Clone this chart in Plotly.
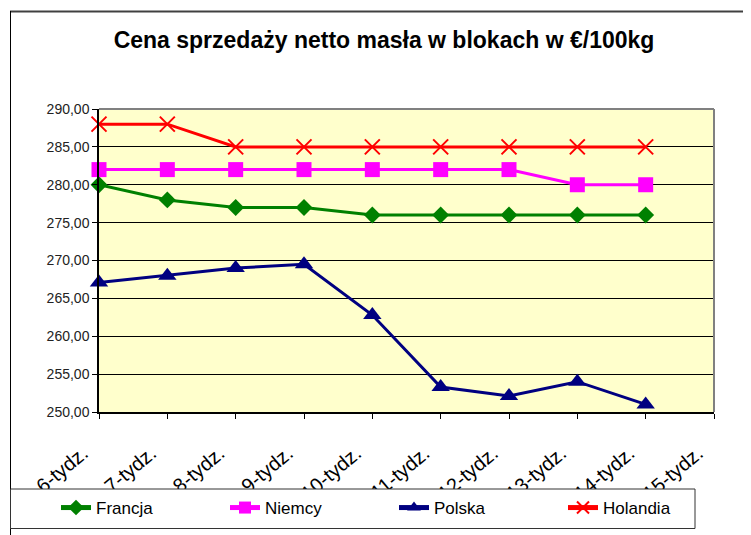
import plotly.graph_objects as go

categories = ["6-tydz.", "7-tydz.", "8-tydz.", "9-tydz.", "10-tydz.",
              "11-tydz.", "12-tydz.", "13-tydz.", "14-tydz.", "15-tydz."]
francja = [280, 278, 277, 277, 276, 276, 276, 276, 276]
niemcy = [282, 282, 282, 282, 282, 282, 282, 280, 280]
polska = [267.1, 268, 269, 269.5, 262.8, 253.3, 252.1, 254, 251]
holandia = [288, 288, 285, 285, 285, 285, 285, 285, 285]
y_ticks = [250, 255, 260, 265, 270, 275, 280, 285, 290]
y_tick_labels = ["250,00", "255,00", "260,00", "265,00", "270,00",
                 "275,00", "280,00", "285,00", "290,00"]

# page offset (browser body margin)
OFF = 8
W, H = 751 - OFF, 535 - OFF
# plot area in screen px
L, R, T, B = 99, 714, 109, 412


def px(x):
    return (x - L) / (R - L)


def py(y):
    return (B - y) / (B - T)


fig = go.Figure()

series = [
    ("Francja", francja, "#008000", "diamond", 13, 0),
    ("Niemcy", niemcy, "#FF00FF", "square", 15, 0),
    ("Polska", polska, "#000080", "triangle-up", 16, 0),
    ("Holandia", holandia, "#FF0000", "x-thin-open", 15, 2),
]
for name, vals, color, sym, size, lw in series:
    fig.add_trace(go.Scatter(
        x=categories[:len(vals)], y=vals, name=name, mode="lines+markers",
        line=dict(color=color, width=3),
        marker=dict(symbol=sym, size=size, color=color,
                    line=dict(color=color, width=lw)),
        cliponaxis=False,
    ))

shapes = [
    # plot area top/right gray border
    dict(type="line", xref="paper", yref="paper", x0=0, x1=1, y0=1, y1=1,
         line=dict(color="#808080", width=2), layer="above"),
    dict(type="line", xref="paper", yref="paper", x0=1, x1=1, y0=0, y1=1,
         line=dict(color="#808080", width=2), layer="above"),
    # outer chart border
    dict(type="line", xref="paper", yref="paper", x0=px(10), x1=px(800),
         y0=py(11.5), y1=py(11.5), line=dict(color="#404040", width=2)),
    dict(type="line", xref="paper", yref="paper", x0=px(10.5), x1=px(10.5),
         y0=py(11), y1=py(600), line=dict(color="#000000", width=1)),
    # legend box
    dict(type="rect", xref="paper", yref="paper", x0=px(10.5), x1=px(695),
         y0=py(489), y1=py(528.5), fillcolor="white",
         line=dict(color="#333333", width=1), layer="above"),
]

fig.update_layout(
    width=W, height=H,
    margin=dict(l=L - OFF, r=W - (R - OFF), t=T - OFF, b=H - (B - OFF),
                autoexpand=False),
    paper_bgcolor="white",
    plot_bgcolor="#FFFFCC",
    font=dict(family="Arial, Liberation Sans, sans-serif", color="#000000"),
    title=dict(text="<b>Cena sprzedaży netto masła w blokach w €/100kg</b>",
               x=(384 - OFF) / W, xanchor="center",
               y=1 - (40 - OFF) / H, yanchor="middle",
               font=dict(size=23, color="#000000")),
    showlegend=True,
    legend=dict(orientation="h", x=px(56), xanchor="left",
                y=py(508), yanchor="middle",
                bgcolor="rgba(0,0,0,0)", borderwidth=0,
                entrywidth=124, entrywidthmode="pixels",
                font=dict(size=17, color="#000000"),
                itemsizing="constant"),
    shapes=shapes,
    xaxis=dict(
        type="category", categoryorder="array", categoryarray=categories,
        tickvals=categories, ticktext=categories,
        range=[0, 9], showgrid=False, zeroline=False,
        showline=True, linecolor="#000000", linewidth=1.5,
        ticks="outside", ticklen=5, tickcolor="#000000",
        tickangle=-40, tickfont=dict(size=20, color="#000000"),
        ticklabelstandoff=15, ticklabelshift=-16,
    ),
    yaxis=dict(
        range=[250, 290], tickvals=y_ticks, ticktext=y_tick_labels,
        showgrid=True, gridcolor="#000000", gridwidth=1, zeroline=False,
        showline=True, linecolor="#000000", linewidth=1.5,
        ticks="outside", ticklen=5, tickcolor="#000000",
        tickfont=dict(size=14, color="#222222"),
    ),
)

fig.write_html("out.html")
